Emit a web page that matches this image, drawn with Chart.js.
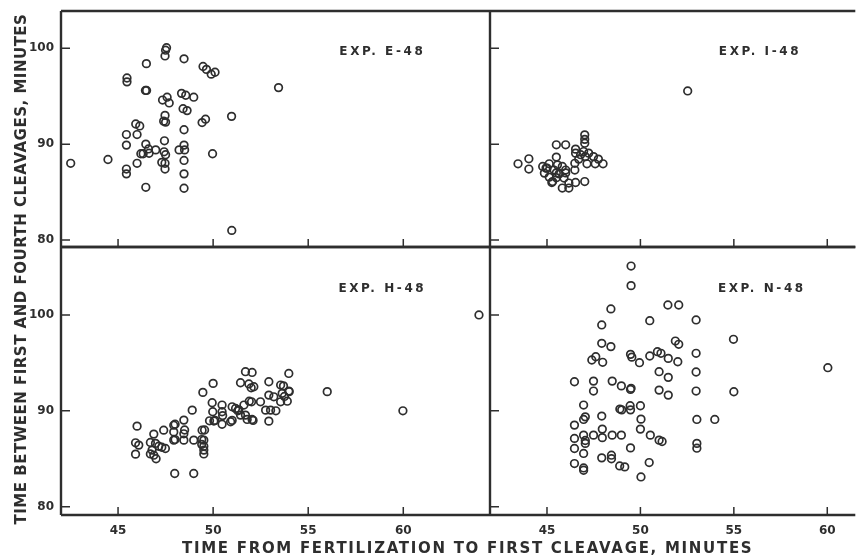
<!DOCTYPE html>
<html>
<head>
<meta charset="utf-8">
<script src="https://cdn.jsdelivr.net/npm/chart.js@4.4.1/dist/chart.umd.min.js"></script>
<style>
    html, body { margin: 0; padding: 0; background: #fff; }
    #fig { position: relative; width: 861px; height: 559px; overflow: hidden; font-family: 'DejaVu Sans', sans-serif; font-weight: bold; color: #2e2e2e; }
    #fig canvas { position: absolute; left: 0; top: 0; }
    .x-title { position: absolute; left: 182px; top: 539px; font-size: 15px; letter-spacing: 1.7px; white-space: nowrap; }
    .y-title { position: absolute; left: -236px; top: 260px; width: 514px; text-align: center; font-size: 15px; letter-spacing: 0.5px; white-space: nowrap; transform: rotate(-90deg); transform-origin: 50% 50%; }
</style>
</head>
<body>
<div id="fig">
    <canvas id="panel-e" width="861" height="559"></canvas>
    <canvas id="panel-i" width="861" height="559"></canvas>
    <canvas id="panel-h" width="861" height="559"></canvas>
    <canvas id="panel-n" width="861" height="559"></canvas>
    <div class="x-title">TIME FROM FERTILIZATION TO FIRST CLEAVAGE, MINUTES</div>
    <div class="y-title">TIME BETWEEN FIRST AND FOURTH CLEAVAGES, MINUTES</div>
</div>
<script>
// tick labels shared by all four panels
const xTicks = [45, 50, 55, 60];
const yTicks = [80, 90, 100];

// EXP. E-48 (top left)
const e48X = [47.55, 47.5, 47.47, 46.49, 48.47, 49.47, 49.65, 49.9, 50.1, 45.47, 45.47, 53.44, 46.44, 46.5, 47.34, 47.58, 47.69, 48.34, 48.56, 48.98,
    48.42, 48.63, 47.47, 47.4, 47.5, 50.97, 49.6, 49.42, 45.93, 46.14, 46.0, 45.44, 48.47, 47.44, 45.44, 46.46, 46.6, 46.32, 46.63, 46.98,
    47.42, 47.5, 48.21, 48.47, 48.5, 49.97, 42.51, 44.47, 46.0, 47.47, 47.47, 48.47, 45.44, 45.44, 48.47, 46.46, 48.47, 50.98, 47.3, 46.2];
const e48Y = [100.06, 99.8, 99.2, 98.4, 98.9, 98.1, 97.8, 97.3, 97.5, 96.9, 96.5, 95.9, 95.6, 95.6, 94.6, 94.9, 94.3, 95.3, 95.1, 94.9,
    93.7, 93.5, 93.0, 92.4, 92.3, 92.9, 92.6, 92.25, 92.1, 91.9, 91.0, 91.0, 91.5, 90.35, 89.9, 90.0, 89.5, 89.0, 89.05, 89.4,
    89.2, 88.9, 89.4, 89.9, 89.4, 89.0, 88.0, 88.4, 88.0, 88.0, 87.4, 88.3, 87.4, 86.9, 86.9, 85.5, 85.4, 81.0, 88.1, 89.0];

// EXP. I-48 (top right)
const i48X = [52.53, 43.45, 44.03, 44.03, 45.5, 46.0, 47.02, 47.02, 47.02, 46.53, 46.53, 46.96, 47.23, 47.49, 47.75, 48.0, 47.58, 47.14, 46.7, 46.49,
    46.49, 45.5, 45.12, 44.95, 44.86, 45.12, 45.38, 45.56, 45.82, 46.0, 45.65, 45.91, 45.82, 46.17, 46.17, 46.53, 47.02, 45.3, 44.77, 47.05,
    46.8, 45.0, 45.26, 45.5, 45.5, 46.0];
const i48Y = [95.55, 87.95, 88.47, 87.4, 89.93, 89.93, 90.97, 90.5, 90.1, 89.48, 89.06, 89.23, 89.06, 88.7, 88.44, 87.95, 87.95, 87.95, 88.44, 88.0,
    87.3, 88.65, 87.95, 87.5, 86.98, 86.56, 87.3, 87.84, 87.67, 87.3, 86.9, 86.46, 85.42, 85.42, 85.94, 86.0, 86.1, 86.1, 87.67, 88.7,
    88.9, 87.5, 86.0, 87.0, 86.5, 87.0];

// EXP. H-48 (bottom left)
const h48X = [46.0, 45.92, 46.09, 45.92, 46.88, 46.97, 46.79, 47.14, 46.88, 47.0, 47.49, 47.4, 47.93, 47.93, 47.93, 48.46, 48.46, 48.46, 47.98, 48.98,
    48.98, 49.42, 49.55, 49.51, 49.51, 49.51, 49.51, 49.46, 50.0, 49.95, 49.98, 49.81, 50.04, 50.47, 50.47, 50.47, 51.0, 51.18, 51.35, 51.62,
    50.92, 51.44, 51.7, 51.79, 52.05, 52.02, 52.49, 51.44, 51.88, 52.14, 51.7, 52.05, 52.93, 52.93, 53.19, 53.55, 53.63, 53.98, 53.98, 52.76,
    53.02, 52.93, 53.55, 48.9, 56.0, 59.98, 63.98, 46.7, 47.3, 46.7, 48.0, 48.0, 48.5, 49.4, 49.4, 50.5, 51.0, 51.3, 52.0, 51.9,
    52.1, 53.3, 53.7, 53.75, 53.9, 54.0, 50.1];
const h48Y = [88.4, 86.66, 86.42, 85.48, 87.57, 86.6, 85.9, 86.3, 85.37, 85.0, 86.07, 87.98, 88.5, 87.8, 86.94, 89.03, 87.6, 86.94, 83.46, 83.46,
    86.94, 87.98, 88.0, 86.94, 86.3, 85.9, 85.5, 91.92, 92.86, 90.84, 89.9, 88.96, 88.93, 90.6, 89.9, 88.6, 90.42, 90.25, 90.1, 90.6,
    88.86, 89.55, 89.55, 89.1, 89.1, 90.94, 90.94, 92.93, 92.8, 92.51, 94.08, 94.0, 93.03, 91.64, 91.46, 92.69, 91.82, 93.9, 92.06, 90.07,
    90.07, 88.92, 90.94, 90.07, 92.0, 90.0, 100.0, 86.7, 86.2, 85.5, 88.6, 87.0, 88.0, 87.0, 86.5, 89.5, 89.0, 90.0, 92.4, 91.0,
    89.0, 90.0, 92.6, 91.5, 91.0, 92.0, 89.0];

// EXP. N-48 (bottom right)
const n48X = [49.5, 49.5, 48.42, 51.47, 52.05, 47.93, 50.5, 52.98, 54.98, 47.93, 48.42, 51.87, 52.05, 47.4, 47.61, 47.98, 49.47, 49.54, 49.95, 50.5,
    50.91, 51.1, 51.49, 52.0, 52.98, 51.0, 51.49, 52.98, 46.47, 47.49, 47.49, 48.49, 48.98, 49.47, 49.5, 51.0, 51.49, 52.98, 55.0, 46.96,
    48.9, 49.0, 49.45, 49.47, 50.0, 47.05, 46.96, 46.47, 47.93, 50.03, 53.02, 53.98, 46.47, 46.96, 47.49, 47.96, 47.96, 48.49, 48.98, 47.05,
    46.47, 46.96, 49.47, 50.0, 50.53, 51.0, 51.16, 53.02, 53.02, 46.47, 46.96, 47.93, 48.45, 48.45, 48.89, 49.16, 50.47, 50.03, 60.03, 47.05,
    46.96];
const n48Y = [105.1, 103.06, 100.63, 101.04, 101.04, 98.96, 99.4, 99.48, 97.46, 97.04, 96.7, 97.28, 96.94, 95.3, 95.64, 95.06, 95.89, 95.6, 95.02, 95.72,
    96.17, 96.0, 95.47, 95.12, 96.0, 94.08, 93.49, 94.05, 93.03, 93.1, 92.06, 93.1, 92.6, 92.23, 92.35, 92.16, 91.64, 92.06, 91.99, 90.6,
    90.18, 90.1, 90.53, 90.1, 90.53, 89.37, 89.1, 88.51, 89.45, 89.13, 89.1, 89.1, 87.12, 87.46, 87.46, 88.09, 87.2, 87.46, 87.46, 86.6,
    86.07, 85.55, 86.13, 88.09, 87.46, 86.94, 86.8, 86.6, 86.1, 84.5, 84.04, 85.09, 85.37, 85.0, 84.25, 84.15, 84.6, 83.1, 94.5, 86.9,
    83.8];

const INK = '#2e2e2e';
const tickFont = { family: "'DejaVu Sans', sans-serif", size: 12, weight: 'bold' };

const framePlugin = {
    id: 'panelFrame',
    afterDraw(chart, args, opts) {
        const { ctx, chartArea: a, scales: { x, y } } = chart;
        ctx.save();
        ctx.strokeStyle = INK;
        ctx.lineWidth = 2.4;
        ctx.beginPath();
        ctx.moveTo(a.left, a.top); ctx.lineTo(a.right, a.top);
        ctx.moveTo(a.left, a.bottom); ctx.lineTo(a.right, a.bottom);
        ctx.moveTo(a.left, a.top); ctx.lineTo(a.left, a.bottom);
        ctx.stroke();

        // short tick marks pointing into the panel
        ctx.lineWidth = 1.5;
        ctx.beginPath();
        xTicks.forEach(v => {
            const px = x.getPixelForValue(v);
            if (px > a.left + 2 && px < a.right - 2) { ctx.moveTo(px, a.bottom); ctx.lineTo(px, a.bottom - 8); }
        });
        yTicks.forEach(v => {
            const py = y.getPixelForValue(v);
            ctx.moveTo(a.left, py); ctx.lineTo(a.left + 9, py);
        });
        ctx.stroke();

        ctx.font = "bold 12px 'DejaVu Sans', sans-serif";
        ctx.letterSpacing = '2.6px';
        ctx.fillStyle = INK;
        ctx.textAlign = 'center';
        ctx.textBaseline = 'middle';
        ctx.fillText(opts.label, x.getPixelForValue(opts.labelAt[0]), y.getPixelForValue(opts.labelAt[1]));
        ctx.restore();
    }
};

function makePanel(id, xs, ys, cfg) {
    const ctx = document.getElementById(id).getContext('2d');
    return new Chart(ctx, {
        type: 'scatter',
        data: {
            datasets: [{
                data: xs.map((v, i) => ({ x: v, y: ys[i] })),
                pointStyle: 'circle',
                pointRadius: 3.8,
                pointBorderWidth: 1.7,
                borderColor: INK,
                backgroundColor: 'rgba(0,0,0,0)'
            }]
        },
        options: {
            responsive: false,
            animation: false,
            devicePixelRatio: 1,
            layout: { padding: cfg.padding },
            plugins: {
                legend: { display: false },
                tooltip: { enabled: false },
                panelFrame: { label: cfg.label, labelAt: cfg.labelAt }
            },
            scales: {
                x: {
                    type: 'linear',
                    min: cfg.xRange[0],
                    max: cfg.xRange[1],
                    display: cfg.showX,
                    afterBuildTicks: s => { s.ticks = xTicks.map(v => ({ value: v })); },
                    afterFit: s => {
                        s.height = cfg.showX ? 30 : 0;
                        s.paddingLeft = 0; s.paddingRight = 0;
                    },
                    grid: { display: false, drawTicks: false },
                    border: { display: false },
                    ticks: { color: INK, font: tickFont, padding: 9, maxRotation: 0 }
                },
                y: {
                    type: 'linear',
                    min: cfg.yRange[0],
                    max: cfg.yRange[1],
                    display: cfg.showY,
                    afterBuildTicks: s => { s.ticks = yTicks.map(v => ({ value: v })); },
                    afterFit: s => {
                        s.width = cfg.showY ? 61 : 0;
                        s.paddingTop = 0; s.paddingBottom = 0;
                    },
                    grid: { display: false, drawTicks: false },
                    border: { display: false },
                    ticks: { color: INK, font: tickFont, padding: 7 }
                }
            }
        },
        plugins: [framePlugin]
    });
}

makePanel('panel-e', e48X, e48Y, {
    label: 'EXP. E-48', labelAt: [58.9, 99.6],
    xRange: [42.0, 64.56], yRange: [79.27, 103.89],
    showX: false, showY: true,
    padding: { left: 0, top: 11, right: 371, bottom: 312 }
});
makePanel('panel-i', i48X, i48Y, {
    label: 'EXP. I-48', labelAt: [56.4, 99.6],
    xRange: [41.95, 61.5], yRange: [79.27, 103.89],
    showX: false, showY: false,
    padding: { left: 490, top: 11, right: 0, bottom: 312 }
});
makePanel('panel-h', h48X, h48Y, {
    label: 'EXP. H-48', labelAt: [58.9, 102.7],
    xRange: [42.0, 64.56], yRange: [79.13, 107.09],
    showX: true, showY: true,
    padding: { left: 0, top: 247, right: 371, bottom: 14 }
});
makePanel('panel-n', n48X, n48Y, {
    label: 'EXP. N-48', labelAt: [56.5, 102.7],
    xRange: [41.95, 61.5], yRange: [79.13, 107.09],
    showX: true, showY: false,
    padding: { left: 490, top: 247, right: 0, bottom: 14 }
});
</script>
</body>
</html>
